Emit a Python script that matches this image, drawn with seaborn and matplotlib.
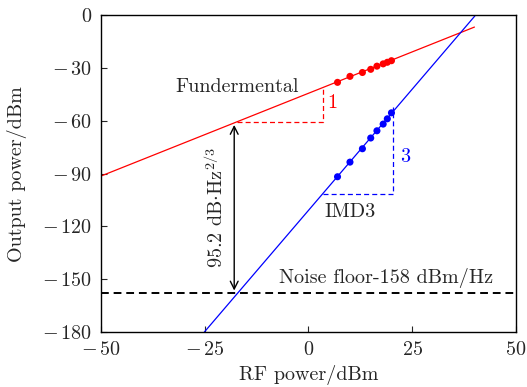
import numpy as np
import pandas as pd
import matplotlib
matplotlib.use("Agg")
import matplotlib.pyplot as plt
import seaborn as sns

# ---- data ----
fund_x = [7, 10, 13, 15, 16.5, 18, 19, 20]
fund_y = [-38.2, -34.8, -32.6, -30.8, -29.0, -27.7, -26.8, -25.9]
imd_x = [7, 10, 13, 15, 16.5, 18, 19, 20]
imd_y = [-91.8, -83.5, -75.9, -69.8, -65.7, -61.9, -58.9, -55.5]

fund_line_x = [-50, 40]
fund_line_y = [-91.4, -6.8]
imd_line_x = [-25.1, 40.1]
imd_line_y = [-180, -0.5]

noise_floor = -158
x_ticks = [-50, -25, 0, 25, 50]
y_ticks = [-180, -150, -120, -90, -60, -30, 0]

fund_tri_x = [-17.2, 3.6, 3.6]
fund_tri_y = [-60.6, -60.6, -41.0]
imd_tri_x = [3.5, 20.4, 20.4]
imd_tri_y = [-101.5, -101.5, -52.0]

FS = 14.5

sns.set_style("white")
plt.rcParams.update({
    "font.family": ["serif"],
    "font.serif": ["cmr10", "DejaVu Serif"],
    "mathtext.fontset": "cm",
    "axes.formatter.use_mathtext": True,
    "axes.unicode_minus": True,
    "font.size": FS,
})


def tick_label(v):
    v = int(round(v))
    if v < 0:
        return r"$-\,%d$" % (-v)
    return r"$%d$" % v


fig = plt.figure(figsize=(5.27, 3.87), dpi=100)
ax = fig.add_axes([0.1917, 0.142, 0.979 - 0.1917, 0.961 - 0.142])

red = "#ff0000"
blue = "#0000ff"

sns.lineplot(x=fund_line_x, y=fund_line_y, ax=ax, color=red, linewidth=0.9)
sns.lineplot(x=imd_line_x, y=imd_line_y, ax=ax, color=blue, linewidth=0.9)
sns.scatterplot(x=fund_x, y=fund_y, ax=ax, color=red, s=26, edgecolor="none", zorder=3)
sns.scatterplot(x=imd_x, y=imd_y, ax=ax, color=blue, s=26, edgecolor="none", zorder=3)

ax.plot(fund_tri_x, fund_tri_y, color=red, linestyle=(0, (4, 2.5)), linewidth=0.9)
ax.plot(imd_tri_x, imd_tri_y, color=blue, linestyle=(0, (4, 2.5)), linewidth=0.9)
ax.axhline(noise_floor, color="black", linestyle=(0, (4, 2.5)), linewidth=1.4)

ax.annotate("", xy=(-17.9, -60.8), xytext=(-17.9, noise_floor),
            arrowprops=dict(arrowstyle="<->", color="black", lw=1.0,
                            shrinkA=2, shrinkB=2, mutation_scale=14))

ax.text(-22.5, -109, r"95.2 dB$\cdot$Hz$^{2/3}$", rotation=90, ha="center", va="center", fontsize=FS)
ax.text(-17.2, -41, "Fundermental", ha="center", va="center", fontsize=FS)
ax.text(5.8, -50, "1", color=red, ha="center", va="center", fontsize=FS)
ax.text(23.2, -80.8, "3", color=blue, ha="center", va="center", fontsize=FS)
ax.text(10, -112, "IMD3", ha="center", va="center", fontsize=FS)
ax.text(18.7, -149.5, "Noise floor-158 dBm/Hz", ha="center", va="center", fontsize=FS)

ax.set_xlim(-50, 50)
ax.set_ylim(-180, 0)
ax.set_xticks(x_ticks)
ax.set_yticks(y_ticks)
ax.set_xticklabels([tick_label(v) for v in x_ticks])
ax.set_yticklabels([tick_label(v) for v in y_ticks])
ax.tick_params(direction="in", length=4, width=0.8, labelsize=FS, pad=6.5,
               bottom=True, left=True, top=False, right=False)
for s in ax.spines.values():
    s.set_color("black")
    s.set_linewidth(1.0)
ax.set_xlabel("RF power/dBm", fontsize=FS)
ax.set_ylabel("Output power/dBm", fontsize=FS)
ax.xaxis.set_label_coords(0.5, -0.136)
ax.xaxis.label.set_va("center")
ax.yaxis.set_label_coords(-0.202, 0.5)
ax.yaxis.label.set_va("center")

fig.savefig("out.png", dpi=100)
